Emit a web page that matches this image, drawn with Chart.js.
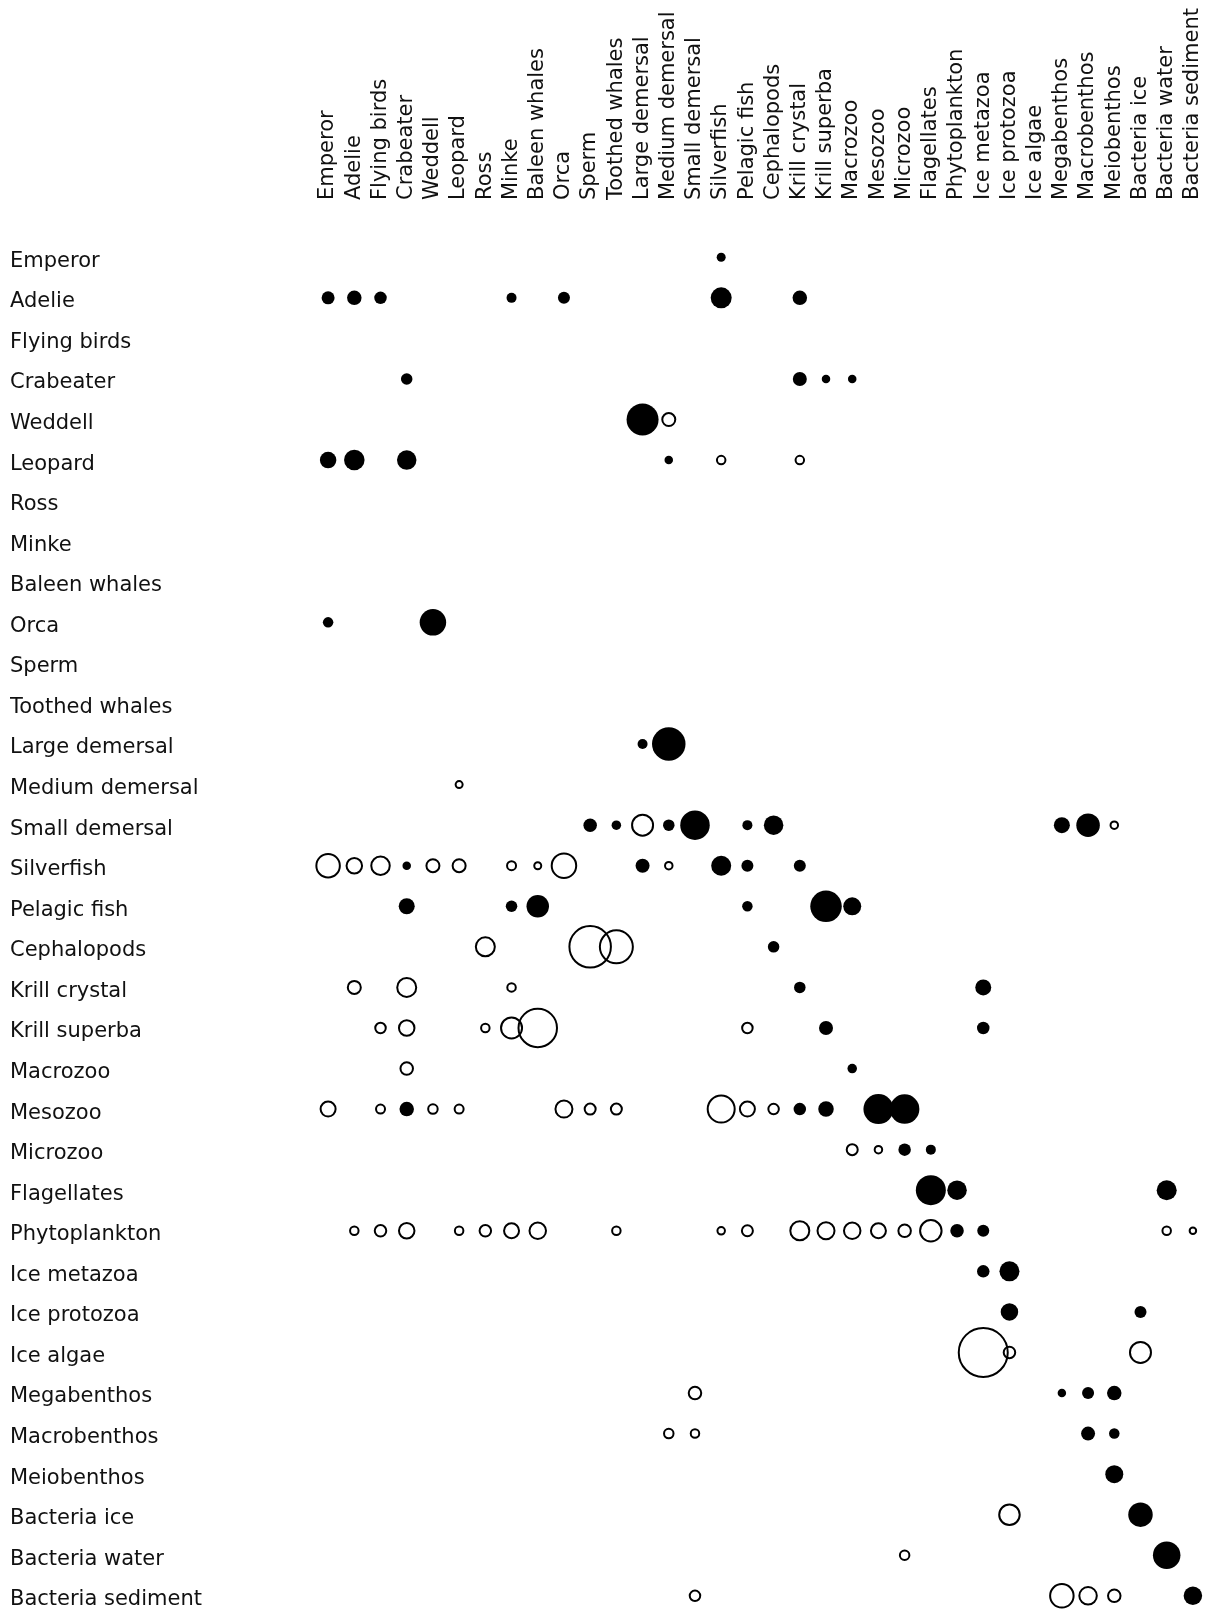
<!DOCTYPE html>
<html>
<head>
<meta charset="utf-8">
<script src="https://cdn.jsdelivr.net/npm/chart.js@4/dist/chart.umd.min.js"></script>
<style>
  html, body { margin: 0; padding: 0; background: #ffffff; }
  #wrap { width: 1212px; height: 1610px; }
</style>
</head>
<body>
<div id="wrap"><canvas id="c" width="1212" height="1610"></canvas></div>
<script>
// Functional groups (rows = impacting group, columns = impacted group)
const groups = [
  'Emperor', 'Adelie', 'Flying birds', 'Crabeater', 'Weddell', 'Leopard', 'Ross', 'Minke',
  'Baleen whales', 'Orca', 'Sperm', 'Toothed whales', 'Large demersal', 'Medium demersal',
  'Small demersal', 'Silverfish', 'Pelagic fish', 'Cephalopods', 'Krill crystal', 'Krill superba',
  'Macrozoo', 'Mesozoo', 'Microzoo', 'Flagellates', 'Phytoplankton', 'Ice metazoa', 'Ice protozoa',
  'Ice algae', 'Megabenthos', 'Macrobenthos', 'Meiobenthos', 'Bacteria ice', 'Bacteria water',
  'Bacteria sediment'
];

// Impacts per impacting group: [impacted column index, relative impact]
// positive = filled circle, negative = open circle
const emperor = [[15, 0.18]];
const adelie = [[0, 0.26], [1, 0.29], [2, 0.25], [7, 0.20], [9, 0.24], [15, 0.42], [18, 0.29]];
const flyingBirds = [];
const crabeater = [[3, 0.23], [18, 0.28], [19, 0.17], [20, 0.17]];
const weddell = [[12, 0.64], [13, -0.28]];
const leopard = [[0, 0.33], [1, 0.41], [3, 0.39], [13, 0.17], [15, -0.19], [18, -0.19]];
const ross = [];
const minke = [];
const baleenWhales = [];
const orca = [[0, 0.21], [4, 0.53]];
const sperm = [];
const toothedWhales = [];
const largeDemersal = [[12, 0.20], [13, 0.67]];
const mediumDemersal = [[5, -0.16]];
const smallDemersal = [[10, 0.27], [11, 0.19], [12, -0.44], [13, 0.23], [14, 0.59], [16, 0.20], [17, 0.39], [28, 0.32], [29, 0.47], [30, -0.17]];
const silverfish = [[0, -0.49], [1, -0.33], [2, -0.39], [3, 0.17], [4, -0.28], [5, -0.28], [7, -0.20], [8, -0.16], [9, -0.51], [12, 0.28], [13, -0.17], [15, 0.40], [16, 0.24], [18, 0.24]];
const pelagicFish = [[3, 0.32], [7, 0.23], [8, 0.45], [16, 0.21], [19, 0.63], [20, 0.36]];
const cephalopods = [[6, -0.40], [10, -0.85], [11, -0.68], [17, 0.23]];
const krillCrystal = [[1, -0.28], [3, -0.40], [7, -0.19], [18, 0.23], [25, 0.32]];
const krillSuperba = [[2, -0.23], [3, -0.33], [6, -0.19], [7, -0.44], [8, -0.79], [16, -0.23], [19, 0.28], [25, 0.25]];
const macrozoo = [[3, -0.27], [20, 0.19]];
const mesozoo = [[0, -0.32], [2, -0.20], [3, 0.29], [4, -0.21], [5, -0.20], [9, -0.36], [10, -0.24], [11, -0.24], [15, -0.56], [16, -0.32], [17, -0.23], [18, 0.25], [19, 0.31], [21, 0.60], [22, 0.59]];
const microzoo = [[20, -0.24], [21, -0.17], [22, 0.25], [23, 0.20]];
const flagellates = [[23, 0.60], [24, 0.39], [32, 0.40]];
const phytoplankton = [[1, -0.19], [2, -0.25], [3, -0.33], [5, -0.19], [6, -0.25], [7, -0.32], [8, -0.35], [11, -0.19], [15, -0.17], [16, -0.24], [18, -0.40], [19, -0.36], [20, -0.35], [21, -0.32], [22, -0.27], [23, -0.45], [24, 0.27], [25, 0.24], [32, -0.19], [33, -0.15]];
const iceMetazoa = [[25, 0.25], [26, 0.40]];
const iceProtozoa = [[26, 0.35], [31, 0.24]];
const iceAlgae = [[25, -1.00], [26, -0.25], [31, -0.44]];
const megabenthos = [[14, -0.27], [28, 0.17], [29, 0.24], [30, 0.29]];
const macrobenthos = [[13, -0.21], [14, -0.19], [29, 0.28], [30, 0.21]];
const meiobenthos = [[30, 0.36]];
const bacteriaIce = [[26, -0.43], [31, 0.49]];
const bacteriaWater = [[22, -0.21], [32, 0.55]];
const bacteriaSediment = [[14, -0.23], [28, -0.49], [29, -0.37], [30, -0.27], [33, 0.37]];

const rows = [
  emperor, adelie, flyingBirds, crabeater, weddell, leopard, ross, minke, baleenWhales, orca,
  sperm, toothedWhales, largeDemersal, mediumDemersal, smallDemersal, silverfish, pelagicFish,
  cephalopods, krillCrystal, krillSuperba, macrozoo, mesozoo, microzoo, flagellates, phytoplankton,
  iceMetazoa, iceProtozoa, iceAlgae, megabenthos, macrobenthos, meiobenthos, bacteriaIce,
  bacteriaWater, bacteriaSediment
];

const RADIUS_PER_UNIT = 25;   // bubble radius (px) for an impact of magnitude 1
const OPEN_BORDER = 2;

const positive = [];
const negative = [];
rows.forEach((row, ri) => {
  row.forEach(([ci, v]) => {
    const r = RADIUS_PER_UNIT * Math.abs(v);
    if (v > 0) positive.push({ x: ci, y: ri, r: r });
    else negative.push({ x: ci, y: ri, r: r - OPEN_BORDER / 4 });
  });
});

const FONT = { family: "'DejaVu Sans', sans-serif", size: 21, lineHeight: 1.2 };
const allTicks = (scale) => { scale.ticks = groups.map((_, i) => ({ value: i })); };

new Chart(document.getElementById('c'), {
  type: 'bubble',
  data: {
    datasets: [
      { label: 'positive', data: positive, backgroundColor: '#000', borderColor: '#000', borderWidth: 0, clip: false },
      { label: 'negative', data: negative, backgroundColor: 'rgba(0,0,0,0)', borderColor: '#000', borderWidth: OPEN_BORDER, clip: false }
    ]
  },
  options: {
    responsive: false,
    animation: false,
    events: [],
    layout: { autoPadding: false, padding: { left: 10, right: 6, top: 0, bottom: 2 } },
    plugins: { legend: { display: false }, tooltip: { enabled: false } },
    scales: {
      x: {
        type: 'linear', position: 'top', min: -0.5, max: 33.5,
        grid: { display: false }, border: { display: false },
        afterBuildTicks: allTicks,
        ticks: {
          autoSkip: false, maxRotation: 90, minRotation: 90, padding: 29, labelOffset: 25,
          font: FONT, color: '#111',
          callback: (v) => groups[v]
        },
        afterFit: (s) => { s.height = 237; s.paddingLeft = 0; s.paddingRight = 0; }
      },
      y: {
        type: 'linear', reverse: true, min: -0.5, max: 33.3,
        grid: { display: false }, border: { display: false },
        afterBuildTicks: allTicks,
        ticks: {
          autoSkip: false, crossAlign: 'far', padding: 0, labelOffset: 4,
          font: FONT, color: '#111',
          callback: (v) => groups[v]
        },
        afterFit: (s) => { s.width = 305; s.paddingTop = 0; s.paddingBottom = 0; }
      }
    }
  }
});
</script>
</body>
</html>
